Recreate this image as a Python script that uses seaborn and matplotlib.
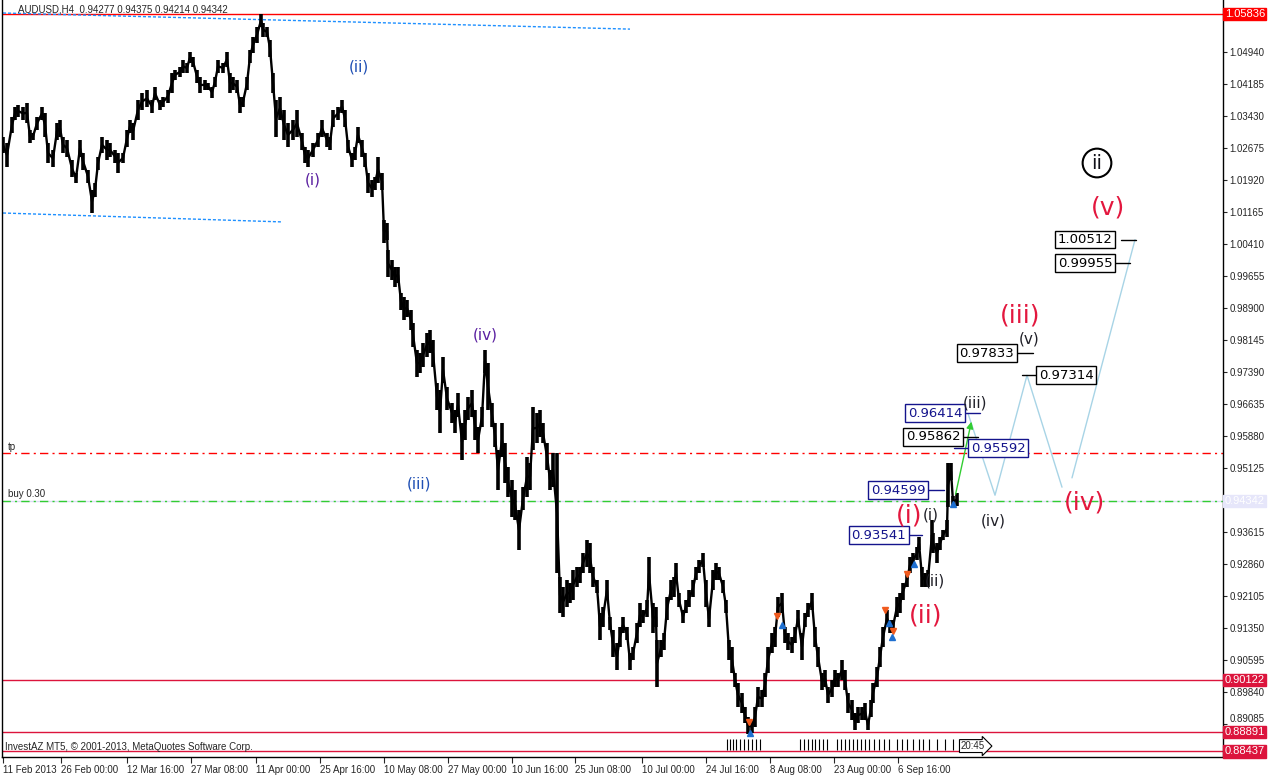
import numpy as np
import seaborn as sns
import matplotlib.pyplot as plt
import matplotlib.transforms as mtransforms

sns.set_style("white")
plt.rcParams['font.family'] = ['Liberation Sans', 'DejaVu Sans']

# H4 bars sampled along the chart: bar number from the left edge, high, low
bar = [0, 4, 9, 12, 15, 20, 24, 27, 30, 34,
       39, 42, 45, 50, 54, 57, 60, 64, 69, 73,
       77, 80, 85, 89, 92, 95, 99, 104, 107, 112,
       115, 120, 124, 127, 130, 135, 139, 144, 149, 152,
       157, 160, 165, 169, 172, 177, 180, 184, 187, 190,
       194, 197, 202, 205, 209, 212, 215, 220, 224, 227,
       230, 234, 237, 240, 244, 247, 250, 254, 258, 260,
       264, 267, 270, 273, 277, 281, 285, 290, 294, 299,
       302, 305, 310, 315, 319, 324, 327, 330, 335, 339,
       342, 345, 349, 352, 355, 359, 362, 365, 369, 372,
       375, 379, 381, 384, 385, 389, 392, 395, 398, 401,
       404, 408, 410, 414, 417, 420, 424, 427, 430, 434,
       437, 440, 444, 449, 452, 455, 459, 462, 465, 469,
       472, 475, 479, 482, 485, 489, 492, 495, 499, 502,
       505, 509, 512, 516, 520, 524, 527, 530, 534, 537,
       540, 544, 547, 550, 554, 557, 560, 564, 567, 570,
       574, 577, 580, 584, 587, 590, 594, 597, 600, 604,
       607, 610, 614, 617, 620, 624, 627, 630, 634, 637,
       640, 644, 646, 650, 653, 654, 658, 661, 664, 668,
       671, 673, 676, 680, 683, 686, 690, 693, 696, 700,
       703, 706, 710, 713, 716, 720, 723, 726, 729, 732,
       735, 739, 742, 745, 749, 752, 755, 759, 762, 765,
       769, 772, 775, 779, 782, 785, 789, 792, 795, 799,
       802, 805, 809, 812, 815, 819, 822, 825, 829, 832,
       835, 839, 842, 845, 849, 852, 855, 859, 862, 865,
       868, 870, 874, 877, 880, 884, 887, 890, 894, 897,
       900, 904, 907, 910, 914, 916, 919, 922, 925, 929,
       930, 934, 937, 940, 944, 945, 948, 950, 954]

high = [1.0294, 1.0279, 1.0341, 1.0364, 1.0369, 1.0364, 1.0374, 1.0310, 1.0303, 1.0341,
        1.0364, 1.0350, 1.0279, 1.0263, 1.0327, 1.0334, 1.0294, 1.0287, 1.0239, 1.0209,
        1.0287, 1.0256, 1.0216, 1.0169, 1.0185, 1.0247, 1.0294, 1.0287, 1.0279, 1.0263,
        1.0256, 1.0256, 1.0310, 1.0334, 1.0327, 1.0381, 1.0397, 1.0405, 1.0381, 1.0412,
        1.0381, 1.0388, 1.0405, 1.0445, 1.0452, 1.0459, 1.0475, 1.0468, 1.0494, 1.0483,
        1.0452, 1.0435, 1.0428, 1.0421, 1.0412, 1.0435, 1.0475, 1.0468, 1.0494, 1.0445,
        1.0435, 1.0428, 1.0388, 1.0388, 1.0435, 1.0499, 1.0530, 1.0553, 1.0584, 1.0563,
        1.0553, 1.0523, 1.0445, 1.0381, 1.0388, 1.0357, 1.0327, 1.0334, 1.0357, 1.0303,
        1.0270, 1.0263, 1.0279, 1.0303, 1.0334, 1.0303, 1.0294, 1.0357, 1.0364, 1.0381,
        1.0357, 1.0287, 1.0256, 1.0270, 1.0317, 1.0287, 1.0256, 1.0209, 1.0192, 1.0199,
        1.0247, 1.0209, 1.0098, 1.0091, 1.0027, 1.0003, 0.9987, 0.9987, 0.9926, 0.9916,
        0.9909, 0.9885, 0.9855, 0.9791, 0.9784, 0.9808, 0.9831, 0.9838, 0.9815, 0.9713,
        0.9697, 0.9775, 0.9704, 0.9666, 0.9649, 0.9689, 0.9618, 0.9649, 0.9680, 0.9697,
        0.9649, 0.9609, 0.9656, 0.9791, 0.9760, 0.9666, 0.9618, 0.9555, 0.9618, 0.9572,
        0.9515, 0.9484, 0.9461, 0.9413, 0.9467, 0.9538, 0.9524, 0.9656, 0.9642, 0.9649,
        0.9618, 0.9572, 0.9508, 0.9548, 0.9548, 0.9255, 0.9232, 0.9248, 0.9241, 0.9272,
        0.9279, 0.9279, 0.9312, 0.9342, 0.9335, 0.9279, 0.9248, 0.9170, 0.9184, 0.9248,
        0.9161, 0.9130, 0.9099, 0.9137, 0.9161, 0.9137, 0.9076, 0.9090, 0.9147, 0.9194,
        0.9177, 0.9201, 0.9302, 0.9194, 0.9184, 0.9107, 0.9107, 0.9123, 0.9208, 0.9248,
        0.9255, 0.9288, 0.9217, 0.9177, 0.9201, 0.9224, 0.9248, 0.9279, 0.9295, 0.9312,
        0.9248, 0.9177, 0.9272, 0.9288, 0.9279, 0.9248, 0.9201, 0.9107, 0.9090, 0.9029,
        0.9005, 0.8981, 0.8948, 0.8924, 0.8917, 0.8948, 0.8996, 0.8988, 0.9029, 0.9090,
        0.9123, 0.9137, 0.9208, 0.9217, 0.9137, 0.9123, 0.9113, 0.9137, 0.9177, 0.9123,
        0.9170, 0.9194, 0.9217, 0.9137, 0.9090, 0.9029, 0.9036, 0.8996, 0.9012, 0.9036,
        0.9029, 0.9059, 0.9036, 0.8981, 0.8965, 0.8934, 0.8948, 0.8948, 0.8958, 0.8917,
        0.8965, 0.9005, 0.9043, 0.9090, 0.9137, 0.9177, 0.9154, 0.9154, 0.9208, 0.9217,
        0.9241, 0.9265, 0.9302, 0.9312, 0.9326, 0.9349, 0.9279, 0.9265, 0.9272, 0.9389,
        0.9359, 0.9335, 0.9349, 0.9366, 0.9389, 0.9524, 0.9524, 0.9446, 0.9453]

low = [1.0256, 1.0223, 1.0303, 1.0334, 1.0341, 1.0334, 1.0327, 1.0279, 1.0287, 1.0310,
       1.0334, 1.0294, 1.0232, 1.0223, 1.0287, 1.0294, 1.0256, 1.0247, 1.0199, 1.0185,
       1.0247, 1.0216, 1.0185, 1.0114, 1.0152, 1.0216, 1.0256, 1.0239, 1.0247, 1.0232,
       1.0209, 1.0232, 1.0270, 1.0303, 1.0287, 1.0334, 1.0357, 1.0364, 1.0350, 1.0381,
       1.0357, 1.0364, 1.0374, 1.0397, 1.0428, 1.0435, 1.0445, 1.0445, 1.0468, 1.0459,
       1.0421, 1.0397, 1.0405, 1.0405, 1.0386, 1.0412, 1.0445, 1.0445, 1.0459, 1.0397,
       1.0405, 1.0397, 1.0350, 1.0364, 1.0405, 1.0468, 1.0492, 1.0516, 1.0553, 1.0530,
       1.0530, 1.0483, 1.0397, 1.0294, 1.0334, 1.0287, 1.0270, 1.0287, 1.0294, 1.0263,
       1.0232, 1.0223, 1.0247, 1.0270, 1.0294, 1.0270, 1.0263, 1.0317, 1.0334, 1.0350,
       1.0317, 1.0256, 1.0223, 1.0239, 1.0279, 1.0247, 1.0223, 1.0161, 1.0152, 1.0169,
       1.0185, 1.0169, 1.0044, 1.0051, 0.9963, 0.9956, 0.9940, 0.9949, 0.9885, 0.9862,
       0.9869, 0.9838, 0.9798, 0.9727, 0.9737, 0.9751, 0.9775, 0.9784, 0.9751, 0.9649,
       0.9595, 0.9713, 0.9649, 0.9618, 0.9595, 0.9633, 0.9531, 0.9578, 0.9626, 0.9633,
       0.9578, 0.9548, 0.9609, 0.9737, 0.9649, 0.9609, 0.9562, 0.9460, 0.9538, 0.9477,
       0.9444, 0.9397, 0.9390, 0.9319, 0.9413, 0.9444, 0.9461, 0.9555, 0.9572, 0.9586,
       0.9572, 0.9508, 0.9461, 0.9468, 0.9265, 0.9170, 0.9161, 0.9184, 0.9194, 0.9201,
       0.9232, 0.9241, 0.9265, 0.9279, 0.9265, 0.9232, 0.9217, 0.9107, 0.9137, 0.9201,
       0.9130, 0.9066, 0.9036, 0.9090, 0.9123, 0.9107, 0.9036, 0.9059, 0.9099, 0.9137,
       0.9147, 0.9161, 0.9224, 0.9123, 0.9137, 0.8996, 0.9066, 0.9083, 0.9154, 0.9201,
       0.9208, 0.9241, 0.9184, 0.9147, 0.9170, 0.9184, 0.9208, 0.9248, 0.9265, 0.9279,
       0.9184, 0.9137, 0.9224, 0.9248, 0.9248, 0.9217, 0.9170, 0.9059, 0.9029, 0.8996,
       0.8948, 0.8934, 0.8910, 0.8885, 0.8887, 0.8901, 0.8948, 0.8948, 0.8972, 0.9029,
       0.9076, 0.9090, 0.9161, 0.9170, 0.9099, 0.9083, 0.9076, 0.9099, 0.9137, 0.9059,
       0.9137, 0.9161, 0.9177, 0.9090, 0.9043, 0.8988, 0.8996, 0.8958, 0.8972, 0.8996,
       0.8996, 0.9012, 0.8988, 0.8934, 0.8918, 0.8894, 0.8910, 0.8917, 0.8917, 0.8894,
       0.8925, 0.8958, 0.8996, 0.9043, 0.9090, 0.9137, 0.9123, 0.9123, 0.9161, 0.9170,
       0.9201, 0.9232, 0.9265, 0.9279, 0.9295, 0.9319, 0.9232, 0.9232, 0.9232, 0.9319,
       0.9312, 0.9288, 0.9319, 0.9342, 0.9349, 0.9420, 0.9484, 0.9420, 0.9422]

date_ticks = [0, 58, 124, 188, 253, 317, 381, 445, 509, 572, 639, 703, 767, 831, 895]
date_labels = ['11 Feb 2013', '26 Feb 00:00', '12 Mar 16:00', '27 Mar 08:00', '11 Apr 00:00',
               '25 Apr 16:00', '10 May 08:00', '27 May 00:00', '10 Jun 16:00', '25 Jun 08:00',
               '10 Jul 00:00', '24 Jul 16:00', '8 Aug 08:00', '23 Aug 00:00', '6 Sep 16:00']

price_ticks = [1.05695, 1.04940, 1.04185, 1.03430, 1.02675, 1.01920, 1.01165, 1.00410,
               0.99655, 0.98900, 0.98145, 0.97390, 0.96635, 0.95880, 0.95125, 0.94370,
               0.93615, 0.92860, 0.92105, 0.91350, 0.90595, 0.89840, 0.89085]
# labels that sit under a price tag in the terminal are not drawn
hidden_ticks = [1.05695, 0.94370]

# horizontal levels with their axis tags
hline_prices = [1.05836, 0.90122, 0.88891, 0.88437]
hline_colors = ['#ff0000', '#dc143c', '#dc143c', '#dc143c']
last_price = 0.94342
tp_price = 0.95470
buy_price = 0.94342

# trend lines (bar, price) pairs
trend_top_bar = [0, 627]
trend_top_price = [1.0586, 1.0548]
trend_low_bar = [0, 279]
trend_low_price = [1.0114, 1.0093]

# projected wave path
proj_bar = [965, 992, 1024, 1059]
proj_price = [0.9641, 0.9448, 0.9731, 0.9467]
proj2_bar = [1069, 1132]
proj2_price = [0.9489, 1.0051]

# trade arrows
sell_bar = [746, 774, 882, 890, 904]
sell_price = [0.8913, 0.9163, 0.9177, 0.9128, 0.9262]
buy_bar = [747, 779, 886, 889, 911, 950]
buy_price_pts = [0.8887, 0.9142, 0.9146, 0.9113, 0.9286, 0.9427]

# deal time marks along the bottom
deal_bars = [724, 727, 730, 733, 737, 741, 745, 749, 753, 757, 797, 801, 805, 809, 812, 816,
             820, 824, 834, 838, 842, 846, 850, 854, 858, 862, 866, 871, 876, 881, 886, 894,
             899, 904, 910, 916, 920, 926, 934, 942, 950]

# boxed target levels
box_vals = [1.00512, 0.99955, 0.97833, 0.97314, 0.96414, 0.95862, 0.95592, 0.94599, 0.93541]
box_colors = ['black', 'black', 'black', 'black', '#14148c', 'black', '#14148c', '#14148c', '#14148c']

# wave labels: bar, price, text
wave_bar = [356, 310, 482, 416]
wave_price = [1.0459, 1.0192, 0.9826, 0.9474]
wave_text = ['(ii)', '(i)', '(iv)', '(iii)']
wave_color = ['#1f4fb4', '#5a1fa0', '#5a1fa0', '#1f4fb4']

red_bar = [1105, 1017, 1082, 906, 923]
red_price = [1.0128, 0.9873, 0.9430, 0.9399, 0.9165]
red_text = ['(v)', '(iii)', '(iv)', '(i)', '(ii)']

dark_bar = [1026, 972, 990, 928, 932]
dark_price = [0.9817, 0.9666, 0.9387, 0.9401, 0.9245]
dark_text = ['(v)', '(iii)', '(iv)', '(i)', '(ii)']

W, H = 1276, 777
fig = plt.figure(figsize=(W / 100, H / 100), dpi=100)
ax = fig.add_axes([2 / W, 20 / H, 1221 / W, 757 / H])
ax.set_xlim(-1, 1220)
ax.set_ylim(0.88302, 1.06167)

# price bars
ax.vlines(bar, low, high, color='black', lw=2.6, zorder=3)
mid = (np.array(high) + np.array(low)) / 2
sns.lineplot(x=bar, y=mid, color='black', lw=1.7, estimator=None, sort=False, ax=ax, zorder=3)

# levels
for p, c in zip(hline_prices, hline_colors):
    ax.axhline(p, color=c, lw=1, zorder=2)
ax.axhline(last_price, color='#dcdcf5', lw=1, zorder=1)
ax.axhline(tp_price, color='#ff0000', lw=1, dashes=(6, 3, 1.5, 3), zorder=2)
ax.axhline(buy_price, color='#32cd32', lw=1, dashes=(6, 3, 1.5, 3), zorder=2)
ax.text(5, tp_price + 0.0004, 'tp', fontsize=7, va='bottom', ha='left')
ax.text(5, buy_price + 0.0004, 'buy 0.30', fontsize=7, va='bottom', ha='left')

ax.plot(trend_top_bar, trend_top_price, color='#1e90ff', lw=1, dashes=(2.2, 1.4))
ax.plot(trend_low_bar, trend_low_price, color='#1e90ff', lw=1, dashes=(2.2, 1.4))

sns.lineplot(x=proj_bar, y=proj_price, color='#a8d4e6', lw=1, estimator=None, sort=False, ax=ax)
sns.lineplot(x=proj2_bar, y=proj2_price, color='#a8d4e6', lw=1, estimator=None, sort=False, ax=ax)

ax.annotate('', xy=(969, 0.9628), xytext=(952, 0.9444),
            arrowprops=dict(arrowstyle='-|>', color='#32cd32', lw=1, mutation_scale=10))

ax.vlines(deal_bars, 0.8847, 0.8873, color='black', lw=0.8, zorder=2)

ax.plot(sell_bar, sell_price, 'v', color='#f05a1e', ms=5, zorder=4)
ax.plot(buy_bar, buy_price_pts, '^', color='#1e6fd0', ms=5, zorder=4)

# boxed targets with their short leader lines
box_center = [1082, 1082, 984, 1063, 932, 930, 995, 895, 876]
line_from = [1118, 1110, 1013, 1019, 960, 959, 951, 924, 905]
line_to = [1133, 1127, 1030, 1035, 977, 975, 967, 941, 919]
for v, c, bc, l0, l1 in zip(box_vals, box_colors, box_center, line_from, line_to):
    ax.plot([l0, l1], [v, v], color=c, lw=1, zorder=5)
    ax.text(bc, v, f'{v:.5f}', color=c, fontsize=9.5, family='DejaVu Sans', ha='center', va='center',
            zorder=6, bbox=dict(boxstyle='square,pad=0.18', fc='white', ec=c, lw=1))

for x, y, s, c in zip(wave_bar, wave_price, wave_text, wave_color):
    ax.text(x, y, s, color=c, fontsize=11, family='DejaVu Sans', ha='center', va='center')
for x, y, s in zip(red_bar, red_price, red_text):
    ax.text(x, y, s, color='#e3173e', fontsize=18, family='DejaVu Sans', ha='center', va='center', zorder=6)
for x, y, s in zip(dark_bar, dark_price, dark_text):
    ax.text(x, y, s, color='#202028', fontsize=11, family='DejaVu Sans', ha='center', va='center', zorder=6)
ax.text(1094, 1.0232, 'ii', color='#101018', fontsize=14, family='DejaVu Sans', ha='center', va='center',
        bbox=dict(boxstyle='circle,pad=0.25', fc='none', ec='black', lw=1.5))

# header and footer texts
ax.text(16 / 1221, 1 - 9 / 757, 'AUDUSD,H4  0.94277 0.94375 0.94214 0.94342', transform=ax.transAxes,
        fontsize=7, va='center', ha='left')
ax.text(3 / 1221, 10 / 757, 'InvestAZ MT5, © 2001-2013, MetaQuotes Software Corp.', transform=ax.transAxes,
        fontsize=7, va='center', ha='left')
ax.text(970, 0.8856, '20:45', fontsize=7, ha='center', va='center', zorder=5,
        bbox=dict(boxstyle='rarrow,pad=0.15', fc='white', ec='black', lw=0.8))

# axes styling
ax.spines['top'].set_visible(False)
for s in ['left', 'right', 'bottom']:
    ax.spines[s].set_color('black')
    ax.spines[s].set_linewidth(1)
ax.yaxis.tick_right()
ax.set_yticks(price_ticks, ['' if t in hidden_ticks else f'{t:.5f}' for t in price_ticks])
ax.set_xticks(date_ticks, date_labels)
ax.tick_params(axis='y', direction='out', length=3, width=0.8, labelsize=7, pad=1.5, right=True, left=False)
ax.tick_params(axis='x', direction='out', length=4, width=0.8, labelsize=7, pad=1.5, bottom=True)
for lab in ax.get_xticklabels():
    lab.set_horizontalalignment('left')
# lowest label sits just above the 0.88891 tag
for t, lab in zip(price_ticks, ax.get_yticklabels(which='major')):
    if t == 0.89085:
        lab.set_verticalalignment('bottom')
ax.grid(False)

# price tags on the axis
trans = mtransforms.blended_transform_factory(ax.transAxes, ax.transData)
tag_prices = hline_prices + [last_price]
tag_colors = hline_colors + ['#e6e6fa']
for p, c in zip(tag_prices, tag_colors):
    ax.text(1.0015, p, f'{p:.5f}', transform=trans, color='white', fontsize=8, ha='left', va='center',
            clip_on=False, zorder=10, bbox=dict(boxstyle='square,pad=0.12', fc=c, ec=c))

fig.savefig('out.png', dpi=100)
